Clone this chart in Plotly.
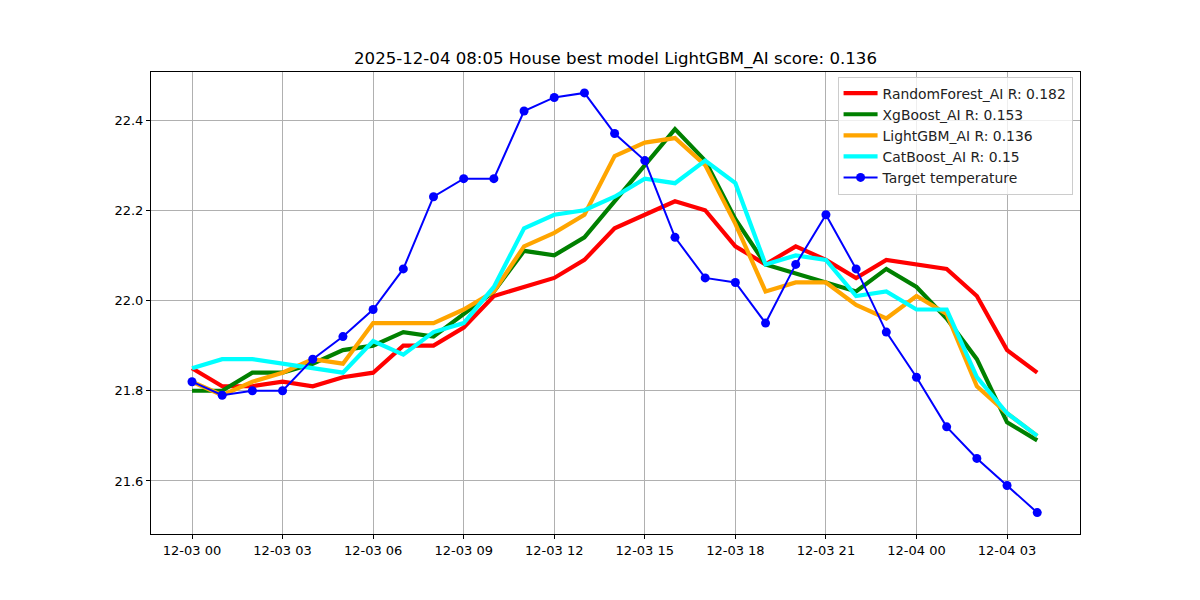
import pandas as pd
import plotly.graph_objects as go

times = pd.date_range("2025-12-03 00:00", periods=29, freq="h")

target = [21.82, 21.79, 21.80, 21.80, 21.87, 21.92, 21.98, 22.07, 22.23, 22.27,
          22.27, 22.42, 22.45, 22.46, 22.37, 22.31, 22.14, 22.05, 22.04, 21.95,
          22.08, 22.19, 22.07, 21.93, 21.83, 21.72, 21.65, 21.59, 21.53]
random_forest = [21.85, 21.81, 21.81, 21.82, 21.81, 21.83, 21.84, 21.90, 21.90, 21.94,
                 22.01, 22.03, 22.05, 22.09, 22.16, 22.19, 22.22, 22.20, 22.12, 22.08,
                 22.12, 22.09, 22.05, 22.09, 22.08, 22.07, 22.01, 21.89, 21.84]
xgboost = [21.80, 21.80, 21.84, 21.84, 21.86, 21.89, 21.90, 21.93, 21.92, 21.97,
           22.02, 22.11, 22.10, 22.14, 22.22, 22.30, 22.38, 22.31, 22.18, 22.08,
           22.06, 22.04, 22.02, 22.07, 22.03, 21.96, 21.87, 21.73, 21.69]
lightgbm = [21.82, 21.79, 21.82, 21.84, 21.87, 21.86, 21.95, 21.95, 21.95, 21.98,
            22.02, 22.12, 22.15, 22.19, 22.32, 22.35, 22.36, 22.30, 22.17, 22.02,
            22.04, 22.04, 21.99, 21.96, 22.01, 21.97, 21.81, 21.75, 21.70]
catboost = [21.85, 21.87, 21.87, 21.86, 21.85, 21.84, 21.91, 21.88, 21.93, 21.95,
            22.03, 22.16, 22.19, 22.20, 22.23, 22.27, 22.26, 22.31, 22.26, 22.08,
            22.10, 22.09, 22.01, 22.02, 21.98, 21.98, 21.83, 21.75, 21.70]

series_names = ["RandomForest_AI R: 0.182", "XgBoost_AI R: 0.153",
                "LightGBM_AI R: 0.136", "CatBoost_AI R: 0.15"]
series_values = [random_forest, xgboost, lightgbm, catboost]
series_colors = ["red", "green", "orange", "cyan"]

title = "2025-12-04 08:05 House best model LightGBM_AI score: 0.136"

fig = go.Figure()
for name, vals, col in zip(series_names, series_values, series_colors):
    fig.add_trace(go.Scatter(x=times, y=vals, mode="lines", name=name,
                             line=dict(color=col, width=4.2)))
fig.add_trace(go.Scatter(x=times, y=target, mode="lines+markers",
                         name="Target temperature",
                         line=dict(color="blue", width=2),
                         marker=dict(color="blue", size=9)))

font = "DejaVu Sans"
fig.update_layout(
    width=1200, height=600,
    margin=dict(l=151, r=120, t=72, b=66),
    paper_bgcolor="white", plot_bgcolor="white",
    font=dict(family=font, size=13, color="black"),
    title=dict(text=title, xref="paper", x=0.5, xanchor="center",
               y=1 - 58 / 600, yanchor="middle",
               font=dict(family=font, size=16.6, color="black")),
    showlegend=True,
    legend=dict(x=0.992, y=0.99, xanchor="right", yanchor="top",
                bgcolor="rgba(255,255,255,0.8)", bordercolor="#cccccc", borderwidth=1,
                font=dict(family=font, size=13.9, color="#222222"), tracegroupgap=0,
                itemwidth=34),
)
fig.update_xaxes(
    range=[pd.Timestamp("2025-12-03 00:00") - pd.Timedelta(minutes=81.5),
           pd.Timestamp("2025-12-03 00:00") + pd.Timedelta(minutes=1765)],
    tickformat="%m-%d %H", dtick=3 * 3600 * 1000,
    tick0="2025-12-03 00:00",
    showgrid=True, gridcolor="#b0b0b0", gridwidth=1,
    showline=True, linecolor="black", linewidth=1, mirror=True,
    ticks="outside", ticklen=4, tickcolor="black", zeroline=False,
)
fig.update_yaxes(
    range=[21.4825, 22.5064],
    tickformat=".1f", dtick=0.2, tick0=21.6,
    showgrid=True, gridcolor="#b0b0b0", gridwidth=1,
    showline=True, linecolor="black", linewidth=1, mirror=True,
    ticks="outside", ticklen=4, tickcolor="black", zeroline=False,
)

fig.write_html("out.html")
